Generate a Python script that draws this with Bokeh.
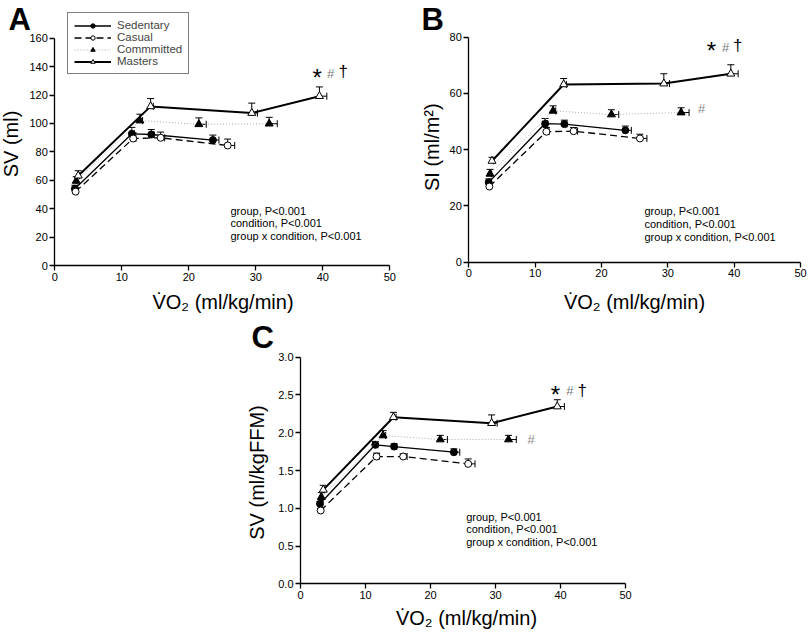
import math
from bokeh.plotting import figure
from bokeh.models import (ColumnDataSource, Whisker, TeeHead, Legend, LegendItem,
                          Label, Spacer, Range1d, FixedTicker, NumeralTickFormatter)
from bokeh.layouts import row, column
from bokeh.embed import file_html
from bokeh.resources import INLINE

FONT = "Liberation Sans"

groups = ["Sedentary", "Casual", "Commmitted", "Masters"]

# VO2 (ml/kg/min) -- shared by the three panels
sed_vo2 = [3.0, 11.5, 14.4, 23.6]
cas_vo2 = [3.1, 11.7, 15.8, 25.8]
com_vo2 = [3.2, 12.7, 21.5, 32.0]
mas_vo2 = [3.5, 14.3, 29.4, 39.5]
sed_vo2_err = [0.2, 0.4, 0.4, 0.9]
cas_vo2_err = [0.2, 0.4, 0.6, 1.05]
com_vo2_err = [0.2, 0.4, 1.1, 1.2]
mas_vo2_err = [0.2, 0.4, 0.85, 1.1]

# Panel A: SV (ml)
sed_sv = [54.0, 92.7, 92.2, 88.3]
cas_sv = [52.0, 89.4, 89.9, 84.5]
com_sv = [59.5, 102.0, 99.4, 99.8]
mas_sv = [63.2, 112.0, 107.3, 119.2]
sed_sv_err = [2.5, 4.5, 3.5, 3.5]
cas_sv_err = [2.5, 4.0, 4.0, 4.5]
com_sv_err = [3.0, 4.5, 4.5, 4.5]
mas_sv_err = [3.5, 5.5, 7.0, 6.5]

# Panel B: SI (ml/m2)
sed_si = [28.4, 49.3, 49.1, 46.9]
cas_si = [26.9, 46.4, 46.6, 44.0]
com_si = [31.4, 53.8, 52.5, 53.2]
mas_si = [36.0, 63.2, 63.5, 67.0]
sed_si_err = [1.2, 1.8, 1.4, 1.5]
cas_si_err = [1.0, 1.5, 1.3, 1.5]
com_si_err = [1.6, 1.8, 1.7, 1.7]
mas_si_err = [1.3, 2.1, 3.5, 3.2]

# Panel C: SV (ml/kgFFM)
sed_ffm = [1.06, 1.84, 1.817, 1.742]
cas_ffm = [0.97, 1.685, 1.685, 1.588]
com_ffm = [1.147, 1.963, 1.91, 1.91]
mas_ffm = [1.244, 2.205, 2.126, 2.347]
sed_ffm_err = [0.03, 0.045, 0.035, 0.045]
cas_ffm_err = [0.03, 0.045, 0.035, 0.065]
com_ffm_err = [0.06, 0.065, 0.055, 0.055]
mas_ffm_err = [0.06, 0.065, 0.11, 0.09]

stats_lines = ["group, P<0.001", "condition, P<0.001", "group x condition, P<0.001"]

vo2_all = [sed_vo2, cas_vo2, com_vo2, mas_vo2]
vo2_err_all = [sed_vo2_err, cas_vo2_err, com_vo2_err, mas_vo2_err]

STYLE = {
    "Sedentary": dict(line_color="black", line_width=1.3, line_dash="solid",
                      marker="circle", size=7, fill_color="black"),
    "Casual": dict(line_color="black", line_width=1.3, line_dash="7 4",
                   marker="circle", size=7, fill_color="white"),
    "Commmitted": dict(line_color="#aaaaaa", line_width=1.0, line_dash="1 2",
                       marker="triangle", size=8, fill_color="black"),
    "Masters": dict(line_color="black", line_width=2.0, line_dash="solid",
                    marker="triangle", size=8, fill_color="white"),
}

XLABEL = "V\u0307O\u2082 (ml/kg/min)"
BASE_CORR = 0.36  # renderer places the alphabetic baseline ~0.36em low


def make_panel(ys, yerrs, y_top, y_step, y_fmt, box, axes_px, texts):
    """box = (page x, page y, width, height) of the figure;
    axes_px = (page x of VO2=0, page x of VO2=50, page y of y=0, page y of y=y_top)."""
    fx, fy, fw, fh = box
    x0, x50, y0, yt = axes_px
    kx = (x50 - x0) / 50.0
    ky = (y0 - yt) / y_top
    p = figure(output_backend="svg", toolbar_location=None,
               x_range=Range1d((fx - x0) / kx, (fx + fw - x0) / kx),
               y_range=Range1d(-(fy + fh - y0) / ky, (y0 - fy) / ky),
               frame_width=fw, frame_height=fh,
               min_border_left=0, min_border_right=0,
               min_border_top=0, min_border_bottom=0)
    p.title.visible = False
    p.xgrid.visible = False
    p.ygrid.visible = False
    p.outline_line_color = None
    p.background_fill_color = "white"
    p.border_fill_color = "white"

    p.xaxis.ticker = FixedTicker(ticks=[0, 10, 20, 30, 40, 50])
    n = int(round(y_top / y_step))
    p.yaxis.ticker = FixedTicker(ticks=[i * y_step for i in range(n + 1)])
    if y_fmt:
        p.yaxis.formatter = NumeralTickFormatter(format=y_fmt)
    p.xaxis.bounds = (0, 50)
    p.yaxis.bounds = (0, y_top)
    p.xaxis.fixed_location = 0
    p.yaxis.fixed_location = 0
    for ax in (p.xaxis, p.yaxis):
        ax.axis_line_width = 1.3
        ax.axis_line_color = "black"
        ax.major_tick_line_width = 1.3
        ax.major_tick_line_color = "black"
        ax.major_tick_out = 5
        ax.major_tick_in = 0
        ax.minor_tick_out = 0
        ax.minor_tick_in = 0
        ax.major_label_text_font = FONT
        ax.major_label_text_font_size = "11px"
        ax.major_label_text_color = "black"
        ax.major_label_standoff = 2
        ax.axis_label = None

    def sc(px, py):
        return px - fx, fh - (py - fy)

    rends = []
    for g, x, xe, y, ye in zip(groups, vo2_all, vo2_err_all, ys, yerrs):
        st = STYLE[g]
        src = ColumnDataSource(dict(
            x=x, y=y,
            xr=[a + b for a, b in zip(x, xe)],
            yu=[a + b for a, b in zip(y, ye)],
        ))
        p.add_layout(Whisker(source=src, base="x", lower="y", upper="yu",
                             dimension="height", line_width=1, line_color="black",
                             upper_head=TeeHead(size=7, line_width=1, line_color="black"),
                             lower_head=None))
        p.add_layout(Whisker(source=src, base="y", lower="x", upper="xr",
                             dimension="width", line_width=1, line_color="black",
                             upper_head=TeeHead(size=7, line_width=1, line_color="black"),
                             lower_head=None))
        lr = p.line("x", "y", source=src, line_color=st["line_color"],
                    line_width=st["line_width"], line_dash=st["line_dash"])
        sr = p.scatter("x", "y", source=src, marker=st["marker"], size=st["size"],
                       fill_color=st["fill_color"], line_color="black", line_width=1)
        rends.append((g, lr, sr))

    for (txt, px, py, size, style, color, align, angle) in texts:
        corr = BASE_CORR * float(size.replace("px", ""))
        if angle:
            px -= corr
        else:
            py -= corr
        sx, sy = sc(px, py)
        p.add_layout(Label(x=sx, y=sy, x_units="screen", y_units="screen",
                           text=txt, text_font=FONT, text_font_size=size,
                           text_font_style=style, text_color=color,
                           text_align=align, text_baseline="alphabetic",
                           angle=angle))
    return p, rends, sc


def common_texts(letter, letter_xy, ylab, ylab_xy, xlab_xy, stats_xy, marks):
    # positions are the wanted page positions of each text's baseline
    t = [(letter, letter_xy[0], letter_xy[1], "31px", "bold", "black", "left", 0.0),
         (ylab, ylab_xy[0], ylab_xy[1], "20px", "normal", "black", "center", math.pi / 2),
         (XLABEL, xlab_xy[0], xlab_xy[1], "20px", "normal", "black", "center", 0.0)]
    sx, sy0 = stats_xy
    for i, line in enumerate(stats_lines):
        t.append((line, sx, sy0 + i * 12.8, "11px", "normal", "black", "left", 0.0))
    t.extend(marks)
    return t


def marks_set(star_c, hash_c, dag_c, extra_hash=None):
    # arguments are the wanted visual centres of each symbol
    m = [("*", star_c[0], star_c[1] + 0.45 * 24, "24px", "normal", "black", "center", 0.0),
         ("#", hash_c[0], hash_c[1] + 4.5, "13px", "normal", "#777777", "center", 0.0),
         ("\u2020", dag_c[0], dag_c[1] + 5.6, "17px", "normal", "black", "center", 0.0)]
    if extra_hash:
        m.append(("#", extra_hash[0], extra_hash[1] + 4.5, "13px", "normal",
                  "#888888", "center", 0.0))
    return m


# ---- Panel A ----
A_BOX = (0, 0, 415, 318)
pA, rA, scA = make_panel(
    [sed_sv, cas_sv, com_sv, mas_sv], [sed_sv_err, cas_sv_err, com_sv_err, mas_sv_err],
    160, 20, None, A_BOX, (54.3, 389.3, 265.0, 37.7),
    common_texts("A", (8, 30), "SV (ml)", (17.5, 143.5), (222.5, 308.5),
                 (230, 214),
                 marks_set((316.7, 75), (330, 73), (342.7, 72))),
)
lx, ly = scA(67, 74)
legend = Legend(
    items=[LegendItem(label=g, renderers=[lr, sr]) for g, lr, sr in rA],
    location=(lx, ly), orientation="vertical",
    border_line_color="black", border_line_width=1.2,
    background_fill_color="white", background_fill_alpha=1.0,
    label_text_font=FONT, label_text_font_size="11.5px",
    glyph_width=37, glyph_height=11, label_height=11, label_standoff=6,
    spacing=0, padding=6, margin=0,
)
pA.add_layout(legend)

# ---- Panel B ----
B_BOX = (415, 0, 394, 318)
pB, _, _ = make_panel(
    [sed_si, cas_si, com_si, mas_si], [sed_si_err, cas_si_err, com_si_err, mas_si_err],
    80, 20, None, B_BOX, (468.3, 800.0, 261.7, 36.7),
    common_texts("B", (421, 30), "SI (ml/m\u00b2)", (439, 146.7), (634, 308.5),
                 (644, 214.5),
                 marks_set((711, 48.3), (725, 47), (737.3, 46), (701, 108.3))),
)

# ---- Panel C ----
C_BOX = (200, 318, 460, 320)
pC, _, _ = make_panel(
    [sed_ffm, cas_ffm, com_ffm, mas_ffm], [sed_ffm_err, cas_ffm_err, com_ffm_err, mas_ffm_err],
    3.0, 0.5, "0.0", C_BOX, (300.0, 625.0, 583.3, 356.7),
    common_texts("C", (251, 348), "SV (ml/kgFFM)", (264, 472), (466, 625),
                 (465.7, 520),
                 marks_set((555, 391.7), (569.3, 390), (581.7, 391), (530.7, 439.3))),
)

layout = column(row(pA, pB), row(Spacer(width=200, height=10), pC))

open("out.html", "w").write(file_html(layout, INLINE))
